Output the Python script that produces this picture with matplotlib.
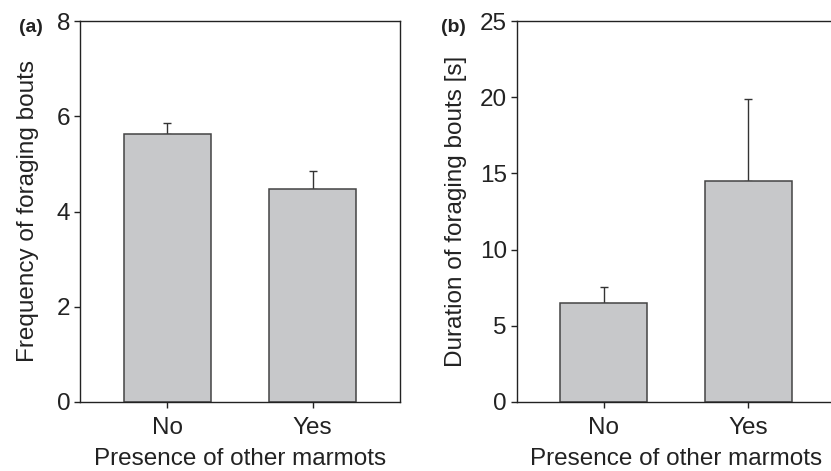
import numpy as np
import matplotlib.pyplot as plt
from matplotlib import rcParams

rcParams["font.family"] = "Liberation Sans"
rcParams["font.size"] = 17.5

groups = ["No", "Yes"]
freq_mean = [5.62, 4.47]
freq_se = [0.23, 0.39]
dur_mean = [6.5, 14.52]
dur_se = [1.07, 5.36]

W, H = 831, 471
fig = plt.figure(figsize=(W / 100, H / 100), dpi=100, facecolor='white')

def panel(rect, means, errs, ylim, yticks, ylabel, tag, tag_x, ylab_x):
    ax = fig.add_axes(rect)
    x = np.arange(len(groups))
    ax.bar(x, means, width=0.6, color='#c7c8ca', edgecolor='#444444',
           linewidth=1.1, zorder=2)
    ax.errorbar(x, means, yerr=[np.zeros(len(errs)), errs], fmt='none',
                ecolor='#333333', elinewidth=1.0, capsize=3, capthick=1.0,
                zorder=1)
    ax.set_xlim(-0.6, 1.6)
    ax.set_ylim(*ylim)
    ax.set_yticks(yticks)
    ax.set_xticks(x)
    ax.set_xticklabels(groups)
    ax.tick_params(direction='out', length=4, width=1, colors='#222222',
                   pad=3)
    ax.tick_params(axis='x', pad=7)
    for s in ax.spines.values():
        s.set_linewidth(1.0)
        s.set_color('#222222')
    ax.set_ylabel(ylabel, color='#222222')
    ax.yaxis.set_label_coords(ylab_x, 0.5)
    ax.set_xlabel("Presence of other marmots", color='#222222', labelpad=6)
    fig.text(tag_x, 1 - 27 / H, tag, fontsize=14, fontweight='bold',
             color='#222222', va='center', ha='left')
    return ax

ax1 = panel([80 / W, 1 - 402 / H, 320 / W, 381 / H], freq_mean, freq_se,
            (0, 8), [0, 2, 4, 6, 8], "Frequency of foraging bouts", "(a)",
            19 / W, -0.128)
ax2 = panel([516.7 / W, 1 - 402 / H, 318.6 / W, 381 / H], dur_mean, dur_se,
            (0, 25), [0, 5, 10, 15, 20, 25], "Duration of foraging bouts [s]",
            "(b)", 441 / W, -0.156)

plt.savefig('out.png', dpi=100, facecolor='white')
